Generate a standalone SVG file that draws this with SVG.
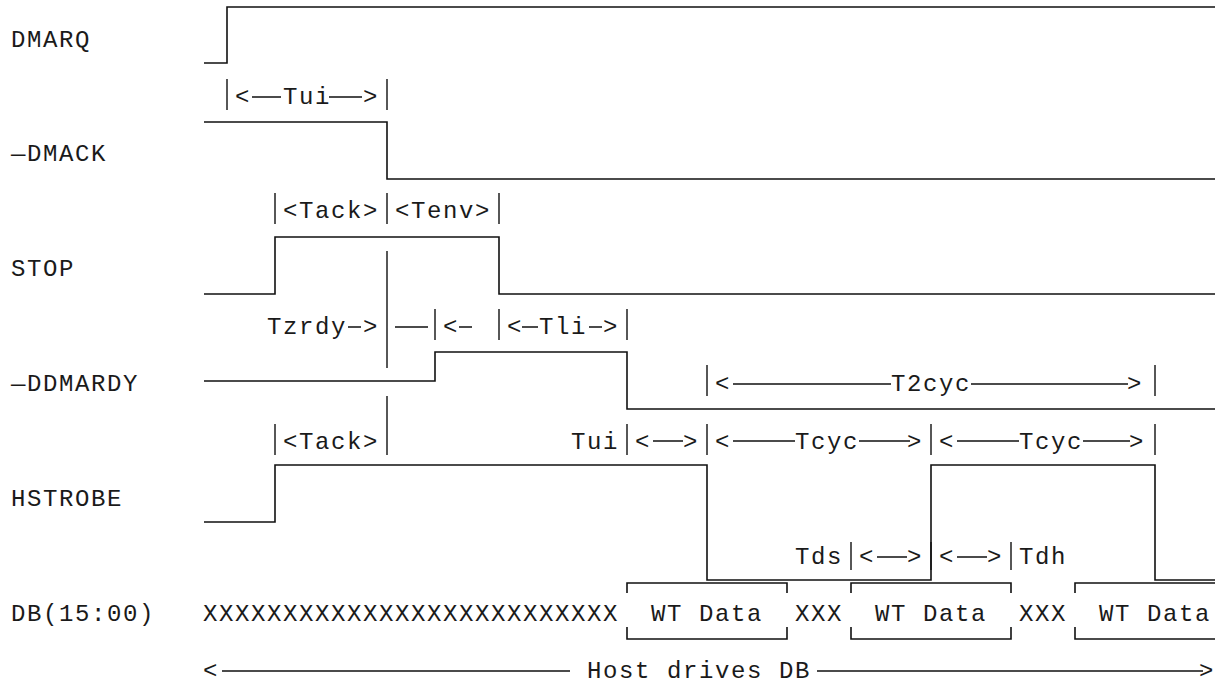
<svg xmlns="http://www.w3.org/2000/svg" width="1215" height="685" viewBox="0 0 1215 685">
<style>
.t{font-family:"Liberation Mono","DejaVu Sans Mono",monospace;font-size:24px;letter-spacing:1.6px;fill:#1a1a1a}
.w{fill:none;stroke:#111;stroke-width:1.6}
.d{fill:none;stroke:#111;stroke-width:1.4}
</style>
<rect width="1215" height="685" fill="#fff"/>
<g id="DMARQ">
<text class="t" x="11" y="47">DMARQ</text>
<path class="w" d="M204,63 H227 V7 H1215"/>
</g>
<g id="DMACK">
<text class="t" x="11" y="161">—DMACK</text>
<path class="w" d="M204,122 H387 V179 H1215"/>
</g>
<g id="STOP">
<text class="t" x="11" y="276">STOP</text>
<path class="w" d="M204,294 H275 V237 H499 V294 H1215"/>
</g>
<g id="DDMARDY">
<text class="t" x="11" y="391">—DDMARDY</text>
<path class="w" d="M204,381 H435 V352 H627 V409 H1215"/>
</g>
<g id="HSTROBE">
<text class="t" x="11" y="506">HSTROBE</text>
<path class="w" d="M204,522 H275 V465 H707 V580 H931 V465 H1155 V580 H1215"/>
</g>
<g id="DB">
<text class="t" x="11" y="621">DB(15:00)</text>
<text class="t" x="203" y="621">XXXXXXXXXXXXXXXXXXXXXXXXXX</text>
<path class="w" d="M627,593 V583 H787 V593 M627,627 V639 H787 V627"/>
<text class="t" x="651" y="621">WT Data</text>
<text class="t" x="795" y="621">XXX</text>
<path class="w" d="M851,593 V583 H1011 V593 M851,627 V639 H1011 V627"/>
<text class="t" x="875" y="621">WT Data</text>
<text class="t" x="1019" y="621">XXX</text>
<path class="w" d="M1075,593 V583 H1215 M1075,627 V639 H1215"/>
<text class="t" x="1099" y="621">WT Data</text>
</g>
<g id="connectors">
<!-- Tui (DMARQ to DMACK) -->
<path class="d" d="M227,79 V110 M387,79 V110 M252,97 H281 M329,97 H362"/>
<text class="t" x="235" y="104">&lt;</text>
<text class="t" x="283" y="104">Tui</text>
<text class="t" x="363" y="104">&gt;</text>
<!-- Tack / Tenv -->
<path class="d" d="M275,193 V224 M387,193 V224 M499,193 V224"/>
<text class="t" x="283" y="218">&lt;Tack&gt;</text>
<text class="t" x="395" y="218">&lt;Tenv&gt;</text>
<!-- Tzrdy / Tli -->
<path class="d" d="M387,251 V368 M348,327 H361 M395,327 H428 M435,309 V340 M459,327 H472 M499,309 V340 M522,327 H538 M589,327 H602 M627,309 V340"/>
<text class="t" x="267" y="334">Tzrdy</text>
<text class="t" x="363" y="334">&gt;</text>
<text class="t" x="443" y="334">&lt;</text>
<text class="t" x="507" y="334">&lt;</text>
<text class="t" x="539" y="334">Tli</text>
<text class="t" x="603" y="334">&gt;</text>
<!-- T2cyc -->
<path class="d" d="M707,365 V396 M1155,365 V396 M733,384 H891 M971,384 H1128"/>
<text class="t" x="715" y="391">&lt;</text>
<text class="t" x="891" y="391">T2cyc</text>
<text class="t" x="1127" y="391">&gt;</text>
<!-- Tack / Tui / Tcyc -->
<path class="d" d="M275,424 V455 M387,396 V455 M627,424 V455 M707,424 V455 M931,424 V455 M1155,424 V455 M653,441 H683 M733,441 H795 M859,441 H910 M957,441 H1019 M1083,441 H1130"/>
<text class="t" x="283" y="449">&lt;Tack&gt;</text>
<text class="t" x="571" y="449">Tui</text>
<text class="t" x="635" y="449">&lt;</text>
<text class="t" x="683" y="449">&gt;</text>
<text class="t" x="715" y="449">&lt;</text>
<text class="t" x="795" y="449">Tcyc</text>
<text class="t" x="907" y="449">&gt;</text>
<text class="t" x="939" y="449">&lt;</text>
<text class="t" x="1019" y="449">Tcyc</text>
<text class="t" x="1129" y="449">&gt;</text>
<!-- Tds / Tdh -->
<path class="d" d="M851,542 V570 M931,542 V570 M1011,542 V570 M877,557 H907 M957,557 H987"/>
<text class="t" x="795" y="564">Tds</text>
<text class="t" x="859" y="564">&lt;</text>
<text class="t" x="907" y="564">&gt;</text>
<text class="t" x="939" y="564">&lt;</text>
<text class="t" x="987" y="564">&gt;</text>
<text class="t" x="1019" y="564">Tdh</text>
<!-- Host drives DB -->
<path class="d" d="M222,671 H570 M817,671 H1203"/>
<text class="t" x="203" y="678">&lt;</text>
<text class="t" x="587" y="678">Host drives DB</text>
<text class="t" x="1199" y="678">&gt;</text>
</g>
</svg>
